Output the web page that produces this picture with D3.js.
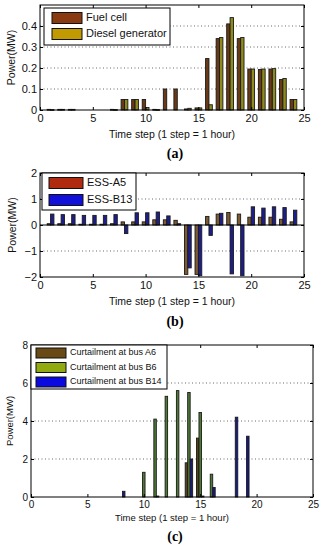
<!DOCTYPE html>
<meta charset="utf-8">
<style>
  body { margin: 0; background: #fff; }
  svg text { font-family: "Liberation Sans", Arial, sans-serif; }
  .cap { font-family: "Liberation Serif", "Times New Roman", serif !important; font-weight: bold; }
</style>
<body>
<div id="chart"></div>
<script src="https://cdnjs.cloudflare.com/ajax/libs/d3/7.8.5/d3.min.js"></script>
<script>

// Data ----------------
var hours = [1, 2, 3, 4, 5, 6, 7, 8, 9, 10, 11, 12, 13, 14, 15, 16, 17, 18, 19, 20, 21, 22, 23, 24];
var xTicks = [0, 5, 10, 15, 20, 25];

// (a) generation, MW
var fuelCell = [0.003, 0.003, 0.003, 0, 0, 0, 0.003, 0.05, 0.05, 0.05, 0.003, 0.1,
                0.1, 0.005, 0.01, 0.245, 0.34, 0.41, 0.34, 0.195, 0.193, 0.195, 0.145, 0.05];
var diesel   = [0.002, 0.003, 0.003, 0, 0, 0, 0.002, 0.05, 0.05, 0.012, 0.002, 0,
                0, 0.008, 0.01, 0.025, 0.345, 0.44, 0.345, 0.195, 0.195, 0.197, 0.15, 0.05];

// (b) storage, MW
var essA5  = [0.05, 0.05, 0.05, 0.03, 0.03, 0.03, 0.05, 0.12, 0.12, 0.12, 0.2, 0.2,
              0.18, -1.9, -1.9, 0.33, 0.42, 0.48, 0.42, 0.3, 0.3, 0.3, 0.22, 0.12];
var essB13 = [0.42, 0.4, 0.4, 0.37, 0.37, 0.37, 0.4, -0.33, 0.47, 0.47, 0.5, 0.35,
              0.05, -1.65, -1.95, -0.4, 0.45, -1.88, -1.95, 0.7, 0.65, 0.7, 0.67, 0.57];

// (c) curtailment, MW
var curtA6  = [0, 0, 0, 0, 0, 0, 0, 0, 0, 0, 0, 0,
               0, 1.8, 3.1, 0, 0, 0, 0, 0, 0, 0, 0, 0];
var curtB6  = [0, 0, 0, 0, 0, 0, 0, 0, 0, 1.3, 4.1, 5.3,
               5.6, 5.5, 4.45, 1.2, 0, 0, 0, 0, 0, 0, 0, 0];
var curtB14 = [0, 0, 0, 0, 0, 0, 0, 0.3, 0, 0, 0.05, 0,
               0, 2.0, 0.05, 0.5, 0, 4.2, 3.2, 0, 0, 0, 0, 0];

var W = 323, H = 550;
var svg = d3.select("#chart").append("svg")
    .attr("width", W)
    .attr("height", H);

function drawPanel(p) {
  var x = d3.scaleLinear().domain([0, 25]).range([p.left, p.right]);
  var y = d3.scaleLinear().domain(p.yDomain).range([p.bottom, p.top]);
  var g = svg.append("g");

  // grid
  g.selectAll(".grid")
    .data(p.grid)
    .enter().append("line")
    .attr("x1", p.left).attr("x2", p.right)
    .attr("y1", function(d) { return y(d); })
    .attr("y2", function(d) { return y(d); })
    .attr("stroke", "#444")
    .attr("stroke-width", 0.8)
    .attr("stroke-dasharray", "1,2.5");

  // bars
  var n = p.series.length;
  var bw = p.barW;
  p.series.forEach(function(s, i) {
    var off = (i - (n - 1) / 2) * bw;
    g.selectAll(null)
      .data(hours.map(function(h, k) { return {h: h, v: s.values[k]}; })
                 .filter(function(d) { return d.v !== 0; }))
      .enter().append("rect")
      .attr("x", function(d) { return x(d.h + off - bw / 2); })
      .attr("width", x(bw) - x(0))
      .attr("y", function(d) { return y(Math.max(0, d.v)); })
      .attr("height", function(d) { return Math.max(0.8, Math.abs(y(d.v) - y(0))); })
      .attr("fill", s.bar)
      .attr("stroke", "#1a1a1a")
      .attr("stroke-width", 0.9);
  });

  // zero line
  if (p.yDomain[0] < 0) {
    g.append("line")
      .attr("x1", p.left).attr("x2", p.right)
      .attr("y1", y(0)).attr("y2", y(0))
      .attr("stroke", "#000").attr("stroke-width", 1);
  }

  // axes, ticks inward on all four sides
  var tl = 3;
  var bottom = g.append("g").attr("transform", "translate(0," + p.bottom + ")")
      .call(d3.axisBottom(x).tickValues(xTicks).tickSize(-tl).tickPadding(p.xPad));
  var top = g.append("g").attr("transform", "translate(0," + p.top + ")")
      .call(d3.axisTop(x).tickValues(xTicks).tickSize(-tl).tickFormat(""));
  var left = g.append("g").attr("transform", "translate(" + p.left + ",0)")
      .call(d3.axisLeft(y).tickValues(p.yTicks).tickSize(-tl).tickPadding(p.yPad)
        .tickFormat(p.yFormat));
  var right = g.append("g").attr("transform", "translate(" + p.right + ",0)")
      .call(d3.axisRight(y).tickValues(p.yTicks).tickSize(-tl).tickFormat(""));
  [bottom, top, left, right].forEach(function(a) {
    a.select(".domain").remove();
    a.selectAll("line").attr("stroke", "#000");
    a.selectAll("text").attr("fill", "#111").style("font-size", p.tickFont + "px");
  });
  g.append("rect")
    .attr("x", p.left).attr("y", p.top)
    .attr("width", p.right - p.left).attr("height", p.bottom - p.top)
    .attr("fill", "none").attr("stroke", "#000").attr("stroke-width", 1);

  // axis labels
  g.append("text")
    .attr("transform", "translate(" + p.yLabelX + "," + ((p.top + p.bottom) / 2) + ") rotate(-90)")
    .attr("text-anchor", "middle")
    .attr("dominant-baseline", "middle")
    .style("font-size", p.labelFont + "px")
    .attr("fill", "#111")
    .text("Power(MW)");
  g.append("text")
    .attr("x", (p.left + p.right) / 2)
    .attr("y", p.xLabelY)
    .attr("text-anchor", "middle")
    .attr("dominant-baseline", "middle")
    .style("font-size", p.labelFont + "px")
    .attr("fill", "#111")
    .text("Time step (1 step = 1 hour)");
  g.append("text")
    .attr("class", "cap")
    .attr("x", (p.left + p.right) / 2 + 3)
    .attr("y", p.capY)
    .attr("text-anchor", "middle")
    .attr("dominant-baseline", "middle")
    .style("font-size", "14px")
    .attr("fill", "#000")
    .text(p.caption);

  // legend
  var L = p.legend;
  g.append("rect")
    .attr("x", L.x).attr("y", L.y).attr("width", L.w).attr("height", L.h)
    .attr("fill", "#fff").attr("stroke", "#000").attr("stroke-width", 1);
  p.series.forEach(function(s, i) {
    var cy = L.y + L.first + i * L.step;
    g.append("rect")
      .attr("x", L.x + L.sx).attr("y", cy - L.sh / 2)
      .attr("width", L.sw).attr("height", L.sh)
      .attr("fill", s.swatch).attr("stroke", "#111").attr("stroke-width", 1);
    g.append("text")
      .attr("x", L.x + L.sx + L.sw + 4).attr("y", cy)
      .attr("dominant-baseline", "middle")
      .style("font-size", L.font + "px")
      .attr("fill", "#111")
      .text(s.name);
  });
}

drawPanel({
  left: 40, right: 304, top: 5, bottom: 110,
  yDomain: [0, 0.5], yTicks: [0, 0.1, 0.2, 0.3, 0.4], grid: [0.1, 0.2, 0.3, 0.4],
  yFormat: function(d) { return d === 0 ? "0" : d3.format(".1f")(d); },
  barW: 0.32, tickFont: 11, labelFont: 10.5, xPad: 4, yPad: 3,
  yLabelX: 12, xLabelY: 135, capY: 155, caption: "(a)",
  series: [
    {name: "Fuel cell", values: fuelCell, bar: "#6a3a16", swatch: "#8a3a10"},
    {name: "Diesel generator", values: diesel, bar: "#8f8a1c", swatch: "#c09a00"}
  ],
  legend: {x: 44, y: 8, w: 126, h: 37, sx: 8, sw: 30, sh: 11, first: 10, step: 16, font: 11}
});

drawPanel({
  left: 40, right: 304, top: 173, bottom: 277,
  yDomain: [-2, 2], yTicks: [-2, -1, 0, 1, 2], grid: [-1, 1],
  yFormat: d3.format("d"),
  barW: 0.32, tickFont: 11, labelFont: 10.5, xPad: 4, yPad: 3,
  yLabelX: 13, xLabelY: 302, capY: 323, caption: "(b)",
  series: [
    {name: "ESS-A5", values: essA5, bar: "#7e5a30", swatch: "#b02a10"},
    {name: "ESS-B13", values: essB13, bar: "#1e1e8a", swatch: "#1010d8"}
  ],
  legend: {x: 42, y: 173, w: 94, h: 37, sx: 7, sw: 34, sh: 11, first: 10, step: 17, font: 11}
});

drawPanel({
  left: 31, right: 313, top: 345, bottom: 497,
  yDomain: [0, 8], yTicks: [0, 2, 4, 6, 8], grid: [2, 4, 6],
  yFormat: d3.format("d"),
  barW: 0.22, tickFont: 10, labelFont: 9.5, xPad: 4, yPad: 3,
  yLabelX: 10, xLabelY: 518, capY: 538, caption: "(c)",
  series: [
    {name: "Curtailment at bus A6", values: curtA6, bar: "#5a4016", swatch: "#6a4a14"},
    {name: "Curtailment at bus B6", values: curtB6, bar: "#4f7a34", swatch: "#90aa10"},
    {name: "Curtailment at bus B14", values: curtB14, bar: "#1a1a86", swatch: "#0a0ae0"}
  ],
  legend: {x: 31, y: 345, w: 136, h: 44, sx: 5, sw: 30, sh: 10, first: 8, step: 14.5, font: 9}
});

</script>
</body>
